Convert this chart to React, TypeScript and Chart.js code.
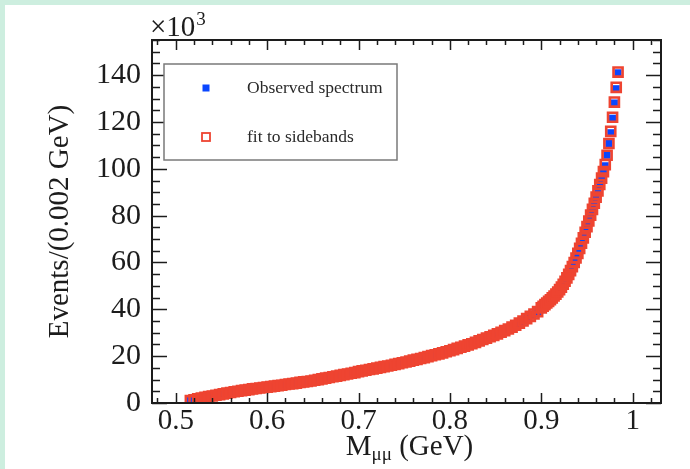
import React, { useEffect, useRef } from "react";
import { Chart, registerables } from "chart.js";

Chart.register(...registerables);

// Bin centres (GeV)
const massGeV = [
  0.516, 0.52, 0.524, 0.528, 0.532, 0.536, 0.54, 0.544, 0.548, 0.552,
  0.556, 0.56, 0.564, 0.568, 0.572, 0.576, 0.58, 0.584, 0.588, 0.592,
  0.596, 0.6, 0.604, 0.608, 0.612, 0.616, 0.62, 0.624, 0.628, 0.632,
  0.636, 0.64, 0.644, 0.648, 0.652, 0.656, 0.66, 0.664, 0.668, 0.672,
  0.676, 0.68, 0.684, 0.688, 0.692, 0.696, 0.7, 0.704, 0.708, 0.712,
  0.716, 0.72, 0.724, 0.728, 0.732, 0.736, 0.74, 0.744, 0.748, 0.752,
  0.756, 0.76, 0.764, 0.768, 0.772, 0.776, 0.78, 0.784, 0.788, 0.792,
  0.796, 0.8, 0.804, 0.808, 0.812, 0.816, 0.82, 0.824, 0.828, 0.832,
  0.836, 0.84, 0.844, 0.848, 0.852, 0.856, 0.86, 0.864, 0.868, 0.872,
  0.876, 0.88, 0.884, 0.888, 0.892, 0.896, 0.9,
  0.902, 0.904, 0.906, 0.908, 0.91, 0.912, 0.914, 0.916, 0.918, 0.92,
  0.922, 0.924, 0.926, 0.928, 0.93, 0.932, 0.934, 0.936, 0.938, 0.94,
  0.942, 0.944, 0.946, 0.948, 0.95, 0.952, 0.954, 0.956, 0.958, 0.96,
  0.962, 0.964, 0.966, 0.968, 0.97, 0.972, 0.974, 0.976, 0.978, 0.98,
  0.982, 0.984,
];

// Fit to sidebands (x10^3 events)
const fitK = [
  1.0, 1.4, 1.8, 2.1, 2.4, 2.7, 3.0, 3.3, 3.6, 3.9,
  4.2, 4.5, 4.8, 5.0, 5.3, 5.5, 5.7, 6.0, 6.2, 6.4,
  6.6, 6.8, 7.0, 7.2, 7.4, 7.6, 7.9, 8.1, 8.3, 8.5,
  8.8, 9.0, 9.2, 9.4, 9.7, 10.0, 10.3, 10.6, 10.9, 11.2,
  11.5, 11.8, 12.1, 12.4, 12.7, 13.0, 13.4, 13.7, 14.0, 14.3,
  14.6, 14.9, 15.2, 15.5, 15.8, 16.1, 16.5, 16.8, 17.2, 17.5,
  17.9, 18.3, 18.6, 19.0, 19.4, 19.8, 20.2, 20.6, 21.0, 21.4,
  21.9, 22.3, 22.8, 23.3, 23.8, 24.3, 24.8, 25.3, 25.9, 26.5,
  27.1, 27.7, 28.3, 28.9, 29.5, 30.2, 30.9, 31.6, 32.4, 33.2,
  34.1, 35.0, 36.0, 37.0, 38.0, 39.0, 40.6,
  41.3, 42.0, 42.7, 43.4, 44.1, 44.9, 45.7, 46.5, 47.4, 48.4,
  49.5, 50.7, 52.0, 53.4, 54.9, 56.5, 58.2, 60.0, 61.9, 63.9,
  66.0, 68.2, 70.5, 72.9, 75.3, 77.7, 80.2, 82.7, 85.3, 87.9,
  90.6, 93.3, 96.0, 98.8, 101.8, 105.8, 110.8, 116.0, 122.0, 128.5,
  134.8, 141.3,
];

// Observed spectrum (x10^3 events)
const observedK = [
  1.1, 1.4, 1.8, 2.1, 2.4, 2.7, 3.0, 3.3, 3.6, 3.9,
  4.2, 4.5, 4.8, 5.0, 5.3, 5.5, 5.7, 6.0, 6.2, 6.4,
  6.6, 6.8, 7.0, 7.2, 7.4, 7.6, 7.9, 8.1, 8.3, 8.5,
  8.8, 9.0, 9.2, 9.4, 9.7, 10.0, 10.3, 10.6, 10.9, 11.2,
  11.5, 11.8, 12.1, 12.4, 12.7, 13.0, 13.4, 13.7, 14.0, 14.3,
  14.6, 14.9, 15.2, 15.5, 15.8, 16.1, 16.5, 16.8, 17.2, 17.5,
  17.9, 18.3, 18.6, 19.0, 19.4, 19.8, 20.2, 20.6, 21.0, 21.4,
  21.9, 22.3, 22.8, 23.3, 23.8, 24.3, 24.8, 25.3, 25.9, 26.5,
  27.1, 27.9, 28.3, 28.9, 29.5, 30.2, 30.9, 31.6, 32.4, 33.2,
  34.1, 35.0, 36.0, 37.2, 38.0, 39.0, 41.0,
  41.6, 42.0, 42.7, 43.4, 44.1, 44.9, 45.7, 46.5, 47.4, 48.4,
  49.5, 50.7, 52.0, 53.4, 54.5, 56.5, 58.2, 60.0, 61.9, 63.9,
  66.0, 67.7, 70.5, 72.9, 75.3, 77.7, 80.2, 82.7, 85.3, 87.9,
  90.6, 93.3, 96.0, 98.4, 101.3, 105.8, 110.8, 115.4, 121.6, 128.1,
  134.2, 141.0,
];

const xTickValues = [0.5, 0.6, 0.7, 0.8, 0.9, 1.0];
const yTickValues = [0, 20, 40, 60, 80, 100, 120, 140];
const xLimits = [0.474, 1.031];
const yLimits = [0, 155];

const legendLabels = ["Observed spectrum", "fit to sidebands"];
const yTitle = "Events/(0.002 GeV)";

const SERIF = '"Liberation Serif", "Times New Roman", serif';
const INK = "#1c1c1c";
const BLUE = "#0a46ff";
const RED = "#ee4431";

const rootFrame = {
  id: "rootFrame",
  afterDraw(chart: any) {
    const { ctx, chartArea: a, scales } = chart;
    const xs = scales.x;
    const ys = scales.y;
    ctx.save();
    ctx.strokeStyle = INK;
    ctx.lineWidth = 1.5;
    ctx.beginPath();
    for (let i = 0; i < 40; i++) {
      const v = 0.48 + i * 0.02;
      if (v > xs.max) break;
      const px = Math.round(xs.getPixelForValue(v)) + 0.5;
      const major = Math.abs(v * 10 - Math.round(v * 10)) < 1e-6;
      const len = major ? 10 : 5;
      ctx.moveTo(px, a.bottom);
      ctx.lineTo(px, a.bottom - len);
      ctx.moveTo(px, a.top);
      ctx.lineTo(px, a.top + len);
    }
    for (let v = 0; v <= ys.max; v += 5) {
      const py = Math.round(ys.getPixelForValue(v)) + 0.5;
      const len = v % 20 === 0 ? 15 : 8;
      ctx.moveTo(a.left, py);
      ctx.lineTo(a.left + len, py);
      ctx.moveTo(a.right, py);
      ctx.lineTo(a.right - len, py);
    }
    ctx.stroke();
    ctx.lineWidth = 2;
    ctx.strokeRect(a.left, a.top, a.right - a.left, a.bottom - a.top);
    ctx.restore();
  },
};

const legendBox = {
  id: "legendBox",
  afterDraw(chart: any) {
    const { ctx, chartArea: a } = chart;
    const bx = a.left + 12;
    const by = a.top + 24;
    const bw = 233;
    const bh = 96;
    ctx.save();
    ctx.fillStyle = "#ffffff";
    ctx.fillRect(bx, by, bw, bh);
    ctx.strokeStyle = "#7a7a7a";
    ctx.lineWidth = 1.5;
    ctx.strokeRect(bx, by, bw, bh);
    const mx = a.left + 54;
    const y1 = a.top + 48;
    const y2 = a.top + 97;
    ctx.fillStyle = BLUE;
    ctx.fillRect(mx - 3.5, y1 - 3.5, 7, 7);
    ctx.strokeStyle = RED;
    ctx.lineWidth = 1.8;
    ctx.strokeRect(mx - 4, y2 - 4, 8, 8);
    ctx.fillStyle = "#2a2a2a";
    ctx.font = `17.5px ${SERIF}`;
    ctx.textBaseline = "middle";
    ctx.textAlign = "left";
    ctx.fillText(legendLabels[0], a.left + 95, y1);
    ctx.fillText(legendLabels[1], a.left + 95, y2);
    ctx.restore();
  },
};

const extraText = {
  id: "extraText",
  afterDraw(chart: any) {
    const { ctx, chartArea: a } = chart;
    ctx.save();
    ctx.fillStyle = INK;
    ctx.textBaseline = "alphabetic";
    ctx.textAlign = "left";
    // x10^3 exponent marker
    ctx.font = `29px ${SERIF}`;
    const ex = a.left - 2;
    ctx.fillText("\u00d710", ex, a.top - 4);
    const w = ctx.measureText("\u00d710").width;
    ctx.font = `19px ${SERIF}`;
    ctx.fillText("3", ex + w + 1, a.top - 15);
    // x-axis title: M_{mu mu} (GeV)
    const base = a.bottom + 52;
    ctx.font = `29px ${SERIF}`;
    const wM = ctx.measureText("M").width;
    ctx.font = `19px ${SERIF}`;
    const wSub = ctx.measureText("\u03bc\u03bc").width;
    ctx.font = `29px ${SERIF}`;
    const wRest = ctx.measureText(" (GeV)").width;
    const total = wM + wSub + wRest;
    let x0 = (a.left + a.right) / 2 + 3 - total / 2;
    ctx.fillText("M", x0, base);
    x0 += wM;
    ctx.font = `19px ${SERIF}`;
    ctx.fillText("\u03bc\u03bc", x0, base + 5);
    x0 += wSub;
    ctx.font = `29px ${SERIF}`;
    ctx.fillText(" (GeV)", x0, base);
    ctx.restore();
  },
};

export default function App() {
  const ref = useRef<HTMLCanvasElement | null>(null);

  useEffect(() => {
    const canvas = ref.current;
    if (!canvas) return;
    const chart = new Chart(canvas, {
      type: "scatter",
      data: {
        datasets: [
          {
            label: legendLabels[1],
            data: massGeV.map((m, i) => ({ x: m, y: fitK[i] })),
            pointStyle: "rect",
            pointRadius: 6.4,
            pointHoverRadius: 6.4,
            borderColor: RED,
            borderWidth: 2.6,
            backgroundColor: "rgba(0,0,0,0)",
            order: 0,
          },
          {
            label: legendLabels[0],
            data: massGeV.map((m, i) => ({ x: m, y: observedK[i] })),
            pointStyle: "rect",
            pointRadius: 5,
            pointHoverRadius: 5,
            borderColor: BLUE,
            borderWidth: 0,
            backgroundColor: BLUE,
            order: 1,
          },
        ],
      },
      options: {
        responsive: false,
        animation: false,
        devicePixelRatio: 1,
        layout: { padding: { top: 35, right: 29, left: 0, bottom: 0 } },
        plugins: {
          legend: { display: false },
          tooltip: { enabled: false },
        },
        scales: {
          x: {
            type: "linear",
            min: xLimits[0],
            max: xLimits[1],
            grid: { display: false },
            border: { display: false },
            afterBuildTicks: (s: any) => {
              s.ticks = xTickValues.map((v) => ({ value: v }));
            },
            afterFit: (s: any) => {
              s.height = 66;
            },
            ticks: {
              font: { family: SERIF, size: 29 },
              color: INK,
              padding: -7,
              maxRotation: 0,
              autoSkip: false,
              callback: (v: any) => String(Number(v)),
            },
          },
          y: {
            type: "linear",
            min: yLimits[0],
            max: yLimits[1],
            grid: { display: false },
            border: { display: false },
            afterBuildTicks: (s: any) => {
              s.ticks = yTickValues.map((v) => ({ value: v }));
            },
            afterFit: (s: any) => {
              s.width = 147;
            },
            ticks: {
              font: { family: SERIF, size: 30 },
              color: INK,
              padding: 3,
              autoSkip: false,
              callback: (v: any) => String(Number(v)),
            },
            title: {
              display: true,
              text: yTitle,
              font: { family: SERIF, size: 29, weight: "normal" },
              color: INK,
              padding: { top: 38, bottom: 0 },
            },
          },
        },
      },
      plugins: [rootFrame, legendBox, extraText],
    });
    return () => chart.destroy();
  }, []);

  return (
    <div
      style={{
        position: "fixed",
        left: 0,
        top: 0,
        width: 690,
        height: 469,
        background: "#cdeedf",
        overflow: "hidden",
      }}
    >
      <canvas
        ref={ref}
        width={685}
        height={464}
        style={{
          position: "absolute",
          left: 5,
          top: 5,
          width: 685,
          height: 464,
          background: "#ffffff",
        }}
      />
    </div>
  );
}
